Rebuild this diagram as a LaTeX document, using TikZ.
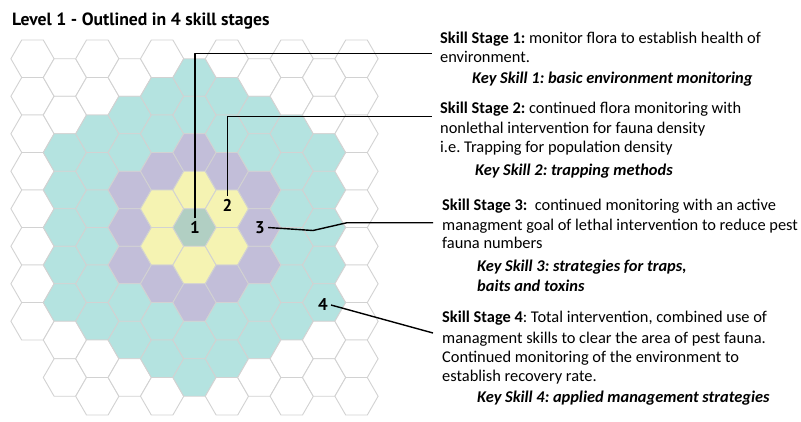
\documentclass[tikz,border=0pt]{standalone}
\usepackage{fontspec}
\setmainfont{Carlito}
\newfontfamily\titlefont{PT Sans}
\frenchspacing
\definecolor{hext}{HTML}{B4E3E0}
\definecolor{hexl}{HTML}{C2BED9}
\definecolor{hexy}{HTML}{F5F3B2}
\definecolor{hexc}{HTML}{B1CFC3}
\definecolor{hexline}{HTML}{D2D2D2}
\tikzset{
  hexcell/.style={draw=hexline, line width=0.9pt, line join=round},
  numlabel/.style={font=\titlefont\bfseries\fontsize{17}{18}\selectfont, inner sep=3pt},
  txt/.style={anchor=base west, inner sep=0pt, font=\fontsize{16.4}{18}\selectfont},
  keytxt/.style={txt, font=\fontsize{16.4}{18}\selectfont\bfseries\itshape},
  connector/.style={draw=black, line width=1.4pt, line join=round}
}
\begin{document}
\begin{tikzpicture}[x=1pt,y=-1pt]
\useasboundingbox (0,0) rectangle (801,421);
\fill[white] (0,0) rectangle (801,421);
\def\hs{21.62pt}
\foreach \c in {0,...,10}{
  \pgfmathtruncatemacro\nrows{ifthenelse(\c==0,7,ifthenelse(mod(\c,2)==0,9,8))}
  \foreach \k in {0,...,\nrows}{
    \pgfmathsetmacro\hx{32.5+32.4*\c}
    \pgfmathsetmacro\hy{58.75+37.5*\k+18.75*mod(\c,2)}
    \pgfmathtruncatemacro\rr{\k-(\c-mod(\c,2))/2}
    \pgfmathtruncatemacro\dd{(abs(\c-5)+abs(\rr-2)+abs(\c-5+\rr-2))/2}
    \ifcase\dd \def\hc{hexc}\or \def\hc{hexy}\or \def\hc{hexl}\or \def\hc{hext}\or \def\hc{hext}\else \def\hc{white}\fi
    \draw[hexcell, fill=\hc] (\hx,\hy) +(0:\hs) -- +(60:\hs) -- +(120:\hs) -- +(180:\hs) -- +(240:\hs) -- +(300:\hs) -- cycle;
  }
}
% title
\node[anchor=base west, inner sep=0pt, font=\titlefont\bfseries\fontsize{17.7}{19}\selectfont] (title) at (12,25) {Level 1 - Outlined in 4 skill stages};
% number labels
\node[numlabel] (l1) at (195,227.5) {1};
\node[numlabel] (l2) at (227.5,205) {2};
\node[numlabel] (l3) at (260,227.5) {3};
\node[numlabel] (l4) at (323,305) {4};
% text block 1
\node[txt] (t1a) at (440,43.3) {\textbf{Skill Stage 1:} monitor flora to establish health of};
\node[txt] (t1b) at (440,62.7) {environment.};
\node[keytxt] (t1c) at (472,83.3) {Key Skill 1: basic environment monitoring};
% text block 2
\node[txt] (t2a) at (440,113.3) {\textbf{Skill Stage 2:} continued flora monitoring with};
\node[txt] (t2b) at (440,133.3) {nonlethal intervention for fauna density};
\node[txt] (t2c) at (440,152.7) {i.e. Trapping for population density};
\node[keytxt] (t2d) at (475,175) {Key Skill 2: trapping methods};
% text block 3
\node[txt] (t3a) at (442,210.7) {\textbf{Skill Stage 3:}\ \ continued monitoring with an active};
\node[txt] (t3b) at (442,230) {managment goal of lethal intervention to reduce pest};
\node[txt] (t3c) at (442,248.3) {fauna numbers};
\node[keytxt] (t3d) at (477,271.7) {Key Skill 3: strategies for traps,};
\node[keytxt] (t3e) at (477,291) {baits and toxins};
% text block 4
\node[txt] (t4a) at (442,322.7) {\textbf{Skill Stage 4}: Total intervention, combined use of};
\node[txt] (t4b) at (442,343.3) {managment skills to clear the area of pest fauna.};
\node[txt] (t4c) at (442,362.7) {Continued monitoring of the environment to};
\node[txt] (t4d) at (442,381.7) {establish recovery rate.};
\node[keytxt] (t4e) at (477,402.7) {Key Skill 4: applied management strategies};
% connector end points
\coordinate (c1) at (432,53.3);
\coordinate (c2) at (432,116.5);
\coordinate (a3) at (313,230.5);
\coordinate (b3) at (347,222.7);
\coordinate (c3) at (433,222.7);
\coordinate (c4) at (433,333);
\draw[connector] (l1.north) |- (c1);
\draw[connector] (l2.north) |- (c2);
\draw[connector] (l3.east) -- (a3) -- (b3) -- (c3);
\draw[connector] (l4.east) -- (c4);
\end{tikzpicture}
\end{document}
